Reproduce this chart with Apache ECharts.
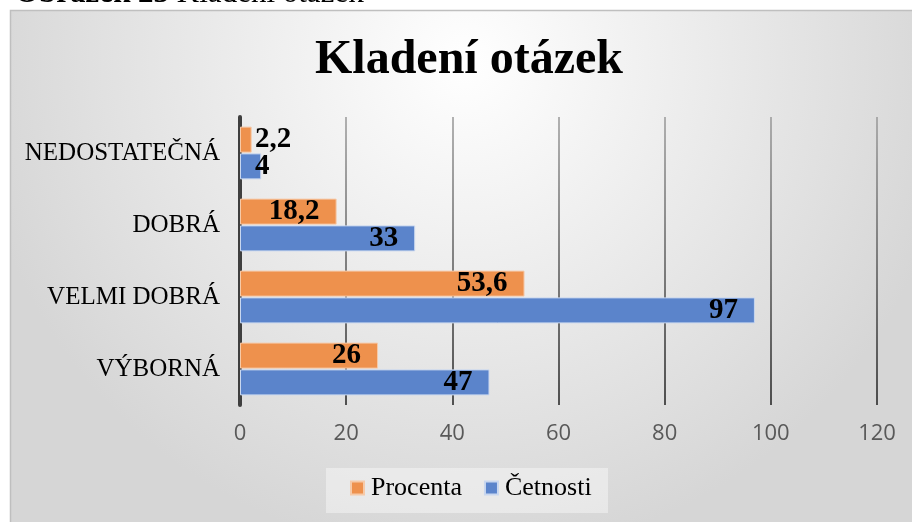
<!DOCTYPE html>
<html>
<head>
<meta charset="utf-8">
<script src="https://cdn.jsdelivr.net/npm/echarts@6/dist/echarts.min.js"></script>
<style>
  html, body { margin: 0; padding: 0; background: #ffffff; }
  #graf { width: 912px; height: 522px; }
</style>
</head>
<body>
<div id="graf"></div>
<script>
// kategorie odspodu nahoru (osa Y)
const kategorie = ['VÝBORNÁ', 'VELMI DOBRÁ', 'DOBRÁ', 'NEDOSTATEČNÁ'];
const procenta = [26, 53.6, 18.2, 2.2];
const cetnosti = [47, 97, 33, 4];
const osaX = [0, 20, 40, 60, 80, 100, 120];

// malé hodnoty se nevejdou do sloupce, popisek začíná u osy
function popisky(data) {
    return data.map(v => {
        if (v < 10) {
            return { value: v, label: { position: 'insideLeft', distance: 15 } };
        }
        return v;
    });
}

var chart = echarts.init(document.getElementById('graf'));

var popisek = {
    show: true, position: 'insideRight', distance: 17,
    fontFamily: 'Liberation Serif', fontWeight: 'bold', fontSize: 29, color: '#000',
    formatter: p => String(p.value).replace('.', ',')
};

var option = {
    animation: false,
    textStyle: { fontFamily: 'Liberation Serif' },
    graphic: [
        {
            type: 'rect', z: -10, silent: true,
            shape: { x: 10.5, y: 10.5, width: 910, height: 520 },
            style: {
                fill: new echarts.graphic.RadialGradient(0.5, 0.1, 0.95, [
                    { offset: 0, color: '#ffffff' },
                    { offset: 1, color: '#d6d6d6' }
                ]),
                stroke: '#bfbfbf', lineWidth: 1.5
            }
        },
        {
            type: 'text', left: 15, top: -22, silent: true,
            style: {
                text: '{b|Obrázek 23} Kladení otázek',
                rich: {
                    b: { fontWeight: 'bold', fontSize: 31, fontFamily: 'Liberation Serif', fill: '#000' }
                },
                font: '31px "Liberation Serif"', fill: '#000'
            }
        },
        {
            type: 'rect', silent: true, z: 1,
            shape: { x: 326, y: 468, width: 282, height: 45 },
            style: { fill: 'rgba(255,255,255,0.4)' }
        }
    ],
    title: {
        text: 'Kladení otázek',
        left: 310,
        top: 32,
        textStyle: { fontFamily: 'Liberation Serif', fontWeight: 'bold', fontSize: 48, color: '#000' }
    },
    legend: {
        top: 475,
        left: 350,
        padding: 0,
        itemWidth: 13,
        itemHeight: 13,
        itemGap: 22,
        icon: 'rect',
        z: 5,
        data: ['Procenta', 'Četnosti'],
        textStyle: { fontFamily: 'Liberation Serif', fontSize: 26, color: '#000', padding: [0, 0, 0, 2] }
    },
    grid: { left: 240, right: 35, top: 117, bottom: 117 },
    xAxis: {
        type: 'value',
        min: 0, max: 120, interval: 20,
        axisLine: { show: false },
        axisTick: { show: false },
        axisLabel: {
            fontFamily: 'Open Sans', fontSize: 22, color: '#595959', margin: 18,
            formatter: v => osaX.includes(v) ? String(v) : ''
        },
        splitLine: {
            lineStyle: {
                width: 1.5,
                color: new echarts.graphic.LinearGradient(0, 0, 0, 1, [
                    { offset: 0, color: '#9a9a9a' },
                    { offset: 1, color: '#1e1e1e' }
                ])
            }
        }
    },
    yAxis: {
        type: 'category',
        data: kategorie,
        axisLine: { lineStyle: { color: '#3f3f3f', width: 4 } },
        axisTick: { show: false },
        axisLabel: { fontFamily: 'Liberation Serif', fontSize: 25, color: '#000', margin: 20 }
    },
    series: [
        {
            name: 'Procenta',
            type: 'bar',
            data: popisky(procenta),
            barWidth: 26,
            barGap: '3%',
            itemStyle: { color: '#ee914d', borderColor: '#f6caa8', borderWidth: 1 },
            label: popisek
        },
        {
            name: 'Četnosti',
            type: 'bar',
            data: popisky(cetnosti),
            barWidth: 26,
            barGap: '3%',
            itemStyle: { color: '#5b84cb', borderColor: '#c9d7ef', borderWidth: 1 },
            label: popisek
        }
    ]
};

chart.setOption(option);
</script>
</body>
</html>
